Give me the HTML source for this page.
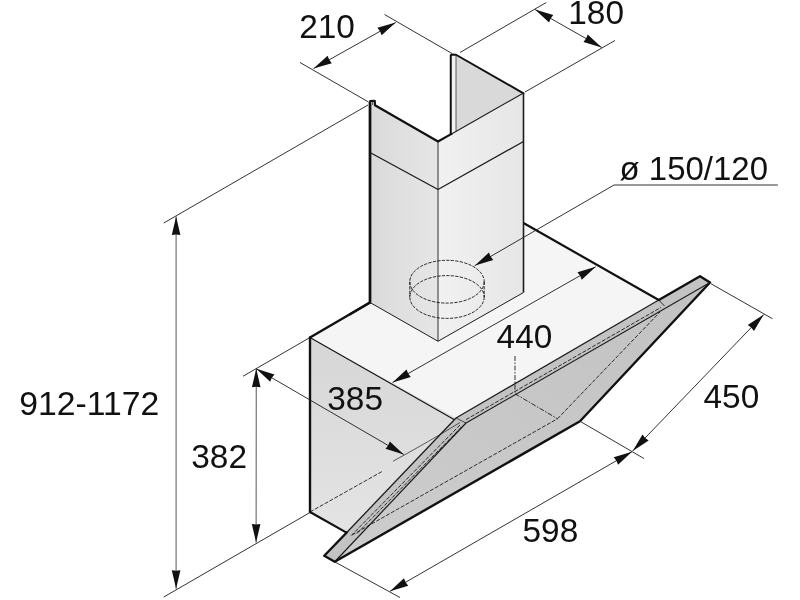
<!DOCTYPE html>
<html lang="en"><head><meta charset="utf-8"><title>Dimensions</title>
<style>html,body{margin:0;padding:0;background:#fff}svg{display:block;filter:grayscale(1)}</style></head>
<body>
<svg width="800" height="600" viewBox="0 0 800 600">
<rect width="800" height="600" fill="#fff"/>
<defs>
<linearGradient id="gR" x1="0" y1="0" x2="1" y2="0"><stop offset="0" stop-color="#f1f1f1"/><stop offset="1" stop-color="#e6e6e6"/></linearGradient>
<linearGradient id="gL" x1="0" y1="0" x2="1" y2="0"><stop offset="0" stop-color="#dadada"/><stop offset="1" stop-color="#e6e6e6"/></linearGradient>
<linearGradient id="gF" x1="0" y1="0" x2="0" y2="1"><stop offset="0" stop-color="#d6d6d6"/><stop offset="1" stop-color="#e4e4e4"/></linearGradient>
<linearGradient id="gG" x1="0" y1="1" x2="1" y2="0"><stop offset="0" stop-color="#cdcdcd"/><stop offset="1" stop-color="#c2c2c2"/></linearGradient>
</defs>
<polygon points="310.00,337.50 515.00,218.00 658.75,300.00 560.00,360.00 456.00,418.00" fill="#f5f5f5" stroke="none" stroke-width="0" stroke-linejoin="round" />
<polygon points="310.00,337.50 456.00,418.00 346.25,533.50 346.25,532.50 310.00,512.00" fill="url(#gF)" stroke="none" stroke-width="0" stroke-linejoin="round" />
<polyline points="370.00,302.50 310.00,337.50" fill="none" stroke="#111" stroke-width="2.4" stroke-linejoin="round" stroke-linecap="round" />
<polyline points="310.00,337.50 310.00,512.00" fill="none" stroke="#111" stroke-width="2.4" stroke-linejoin="round" stroke-linecap="round" />
<polyline points="310.00,512.00 346.50,532.60" fill="none" stroke="#111" stroke-width="2.2" stroke-linejoin="round" stroke-linecap="round" />
<polyline points="310.00,337.50 454.00,419.50" fill="none" stroke="#111" stroke-width="1.05" stroke-linejoin="round" stroke-linecap="round" />
<polyline points="523.50,223.00 658.75,300.00" fill="none" stroke="#111" stroke-width="2.2" stroke-linejoin="round" stroke-linecap="round" />
<polyline points="350.00,314.20 370.00,302.50" fill="none" stroke="#111" stroke-width="2.4" stroke-linejoin="round" stroke-linecap="round" />
<line x1="310.00" y1="512.00" x2="382.50" y2="471.25" stroke="#111" stroke-width="0.85" stroke-dasharray="4 1.6"/>
<polygon points="456.00,54.75 523.50,93.30 456.00,131.50" fill="#d9d9d9" stroke="none" stroke-width="0" stroke-linejoin="round" />
<polygon points="450.75,54.75 456.00,54.75 456.00,131.50 450.75,134.30" fill="#f2f2f2" stroke="none" stroke-width="0" stroke-linejoin="round" />
<polygon points="370.00,102.40 438.00,141.50 438.00,341.25 370.00,302.50" fill="url(#gL)" stroke="none" stroke-width="0" stroke-linejoin="round" />
<polygon points="438.00,141.50 523.50,93.00 523.50,292.50 438.00,341.25" fill="url(#gR)" stroke="none" stroke-width="0" stroke-linejoin="round" />
<polyline points="370.00,302.50 370.00,102.30 370.30,101.00 374.70,100.80 375.00,105.25 438.00,141.50 451.50,133.90" fill="none" stroke="#111" stroke-width="2.2" stroke-linejoin="round" stroke-linecap="round" />
<line x1="370.00" y1="102.30" x2="370.00" y2="302.50" stroke="#111" stroke-width="2.6" />
<line x1="372.60" y1="102.00" x2="372.60" y2="105.00" stroke="#1c1c1c" stroke-width="0.8" />
<polyline points="450.75,134.00 450.75,55.10 452.00,54.60 456.00,54.75 523.50,93.30" fill="none" stroke="#111" stroke-width="2.0" stroke-linejoin="round" stroke-linecap="round" />
<line x1="456.00" y1="54.50" x2="456.00" y2="131.50" stroke="#1c1c1c" stroke-width="0.7" />
<line x1="451.50" y1="133.90" x2="523.50" y2="93.00" stroke="#1c1c1c" stroke-width="1.1" />
<line x1="523.50" y1="93.00" x2="523.50" y2="292.50" stroke="#1c1c1c" stroke-width="1.6" />
<line x1="438.00" y1="141.50" x2="438.00" y2="341.25" stroke="#1c1c1c" stroke-width="0.9" />
<line x1="370.00" y1="152.50" x2="438.00" y2="189.50" stroke="#1c1c1c" stroke-width="1.3" />
<line x1="438.00" y1="189.50" x2="523.50" y2="141.50" stroke="#1c1c1c" stroke-width="1.3" />
<line x1="370.00" y1="302.50" x2="438.00" y2="341.25" stroke="#1c1c1c" stroke-width="1.0" />
<line x1="438.00" y1="341.25" x2="523.50" y2="292.50" stroke="#1c1c1c" stroke-width="1.0" />
<ellipse cx="447" cy="281.7" rx="37.2" ry="21.4" fill="none" stroke="#111" stroke-width="0.9" stroke-dasharray="3.2 1.3"/>
<ellipse cx="447" cy="297.0" rx="37.2" ry="21.4" fill="none" stroke="#111" stroke-width="0.9" stroke-dasharray="3.2 1.3"/>
<line x1="409.80" y1="281.70" x2="409.80" y2="297.00" stroke="#111" stroke-width="0.9" stroke-dasharray="3.2 1.3"/>
<line x1="484.20" y1="281.70" x2="484.20" y2="297.00" stroke="#111" stroke-width="0.9" stroke-dasharray="3.2 1.3"/>
<polygon points="334.75,561.75 580.00,421.25 710.00,282.50 466.00,423.00" fill="url(#gG)" stroke="none" stroke-width="0" stroke-linejoin="round" />
<polygon points="324.25,555.75 334.75,561.75 466.00,423.00 456.00,418.00" fill="#c3c3c3" stroke="none" stroke-width="0" stroke-linejoin="round" />
<polygon points="456.00,418.00 466.00,423.00 710.00,282.50 700.00,276.25" fill="#c3c3c3" stroke="none" stroke-width="0" stroke-linejoin="round" />
<line x1="334.75" y1="561.75" x2="466.00" y2="423.00" stroke="#1c1c1c" stroke-width="1.2" />
<line x1="466.00" y1="423.00" x2="710.00" y2="282.50" stroke="#1c1c1c" stroke-width="1.1" />
<line x1="456.00" y1="418.00" x2="466.00" y2="423.00" stroke="#1c1c1c" stroke-width="0.8" />
<line x1="658.75" y1="300.00" x2="664.50" y2="306.00" stroke="#1c1c1c" stroke-width="0.9" />
<line x1="456.00" y1="418.00" x2="658.75" y2="300.00" stroke="#1c1c1c" stroke-width="1.25" />
<line x1="351.25" y1="535.50" x2="460.00" y2="425.00" stroke="#111" stroke-width="0.85" stroke-dasharray="4 1.6"/>
<line x1="357.00" y1="533.50" x2="463.00" y2="425.50" stroke="#111" stroke-width="0.85" stroke-dasharray="4 1.6"/>
<line x1="466.00" y1="419.60" x2="661.00" y2="307.40" stroke="#111" stroke-width="0.85" stroke-dasharray="4 1.6"/>
<line x1="352.00" y1="535.00" x2="557.50" y2="418.75" stroke="#111" stroke-width="0.85" stroke-dasharray="4 1.6"/>
<line x1="557.50" y1="418.75" x2="660.00" y2="312.00" stroke="#111" stroke-width="0.85" stroke-dasharray="4 1.6"/>
<line x1="515.00" y1="393.75" x2="557.50" y2="418.75" stroke="#111" stroke-width="0.85" stroke-dasharray="5 1.5 1.5 1.5"/>
<line x1="515.00" y1="356.00" x2="515.00" y2="393.75" stroke="#111" stroke-width="0.85" stroke-dasharray="5 1.5 1.5 1.5"/>
<line x1="346.75" y1="532.50" x2="456.00" y2="418.00" stroke="#1c1c1c" stroke-width="1.3" />
<polyline points="346.75,532.50 324.25,555.75 334.75,561.75 580.00,421.25 710.00,282.50 700.00,276.25 658.75,300.00" fill="none" stroke="#111" stroke-width="2.4" stroke-linejoin="round" stroke-linecap="round" />
<line x1="300.00" y1="62.50" x2="368.50" y2="102.00" stroke="#1c1c1c" stroke-width="0.9" />
<line x1="384.50" y1="14.50" x2="452.00" y2="53.50" stroke="#1c1c1c" stroke-width="0.9" />
<line x1="313.50" y1="68.60" x2="395.75" y2="22.50" stroke="#1c1c1c" stroke-width="0.9" />
<polygon points="313.50,68.60 327.62,55.75 329.20,59.80 331.83,63.26" fill="#111"/>
<polygon points="395.75,22.50 381.63,35.35 380.05,31.30 377.42,27.84" fill="#111"/>
<line x1="460.00" y1="52.50" x2="546.25" y2="2.50" stroke="#1c1c1c" stroke-width="0.9" />
<line x1="525.00" y1="92.00" x2="615.00" y2="40.50" stroke="#1c1c1c" stroke-width="0.9" />
<line x1="535.00" y1="9.50" x2="601.75" y2="47.50" stroke="#1c1c1c" stroke-width="0.9" />
<polygon points="535.00,9.50 553.29,14.97 550.64,18.41 549.04,22.44" fill="#111"/>
<polygon points="601.75,47.50 583.46,42.03 586.11,38.59 587.71,34.56" fill="#111"/>
<line x1="368.00" y1="105.00" x2="163.75" y2="223.00" stroke="#1c1c1c" stroke-width="0.9" />
<line x1="163.75" y1="597.00" x2="310.00" y2="512.50" stroke="#1c1c1c" stroke-width="0.9" />
<line x1="176.10" y1="216.40" x2="176.10" y2="588.80" stroke="#444" stroke-width="0.9" />
<polygon points="176.10,216.40 180.40,235.00 176.10,234.40 171.80,235.00" fill="#111"/>
<polygon points="176.10,588.80 171.80,570.20 176.10,570.80 180.40,570.20" fill="#111"/>
<line x1="310.00" y1="337.50" x2="243.00" y2="376.25" stroke="#1c1c1c" stroke-width="0.9" />
<line x1="256.25" y1="368.75" x2="256.10" y2="542.50" stroke="#444" stroke-width="0.9" />
<polygon points="256.25,368.75 260.53,387.35 256.23,386.75 251.93,387.35" fill="#111"/>
<polygon points="256.10,542.50 251.82,523.90 256.12,524.50 260.42,523.90" fill="#111"/>
<line x1="256.25" y1="368.75" x2="403.75" y2="454.50" stroke="#1c1c1c" stroke-width="0.9" />
<polygon points="256.25,368.75 274.49,374.38 271.81,377.80 270.17,381.82" fill="#111"/>
<polygon points="403.75,454.50 385.51,448.87 388.19,445.45 389.83,441.43" fill="#111"/>
<path d="M393 461.25 Q 430 441 460 422.5" fill="none" stroke="#1c1c1c" stroke-width="0.7"/>
<line x1="392.50" y1="382.50" x2="595.75" y2="266.75" stroke="#1c1c1c" stroke-width="0.9" />
<polygon points="392.50,382.50 406.53,369.56 408.14,373.59 410.79,377.03" fill="#111"/>
<polygon points="595.75,266.75 581.72,279.69 580.11,275.66 577.46,272.22" fill="#111"/>
<polyline points="777.50,185.00 614.00,185.00 475.00,265.50" fill="none" stroke="#1c1c1c" stroke-width="0.9" stroke-linejoin="round" stroke-linecap="round" />
<polygon points="475.00,265.50 488.94,252.46 490.58,256.48 493.25,259.90" fill="#111"/>
<line x1="335.00" y1="562.00" x2="400.00" y2="597.50" stroke="#1c1c1c" stroke-width="0.9" />
<line x1="580.00" y1="421.25" x2="643.90" y2="458.50" stroke="#1c1c1c" stroke-width="0.9" />
<line x1="390.00" y1="591.25" x2="632.00" y2="451.70" stroke="#1c1c1c" stroke-width="0.9" />
<polygon points="390.00,591.25 403.96,578.23 405.59,582.26 408.26,585.68" fill="#111"/>
<polygon points="632.00,451.70 618.04,464.72 616.41,460.69 613.74,457.27" fill="#111"/>
<line x1="711.00" y1="283.75" x2="772.50" y2="318.75" stroke="#1c1c1c" stroke-width="0.9" />
<line x1="632.70" y1="450.90" x2="763.75" y2="314.50" stroke="#1c1c1c" stroke-width="0.9" />
<polygon points="632.70,450.90 642.49,434.51 645.17,437.92 648.69,440.47" fill="#111"/>
<polygon points="763.75,314.50 753.96,330.89 751.28,327.48 747.76,324.93" fill="#111"/>
<g font-family="'Liberation Sans', sans-serif" font-size="33.4" fill="#111">
<text x="299.20" y="38.00">210</text>
<text x="568.30" y="24.00">180</text>
<text x="19.20" y="414.50" textLength="140.0" lengthAdjust="spacingAndGlyphs">912-1172</text>
<text x="191.30" y="468.00">382</text>
<text x="327.30" y="410.00">385</text>
<text x="496.60" y="347.70">440</text>
<text x="522.50" y="542.00">598</text>
<text x="703.50" y="408.00">450</text>
<text x="619.50" y="180.00" textLength="148.5" lengthAdjust="spacingAndGlyphs">ø 150/120</text>
</g>
</svg>
</body></html>
